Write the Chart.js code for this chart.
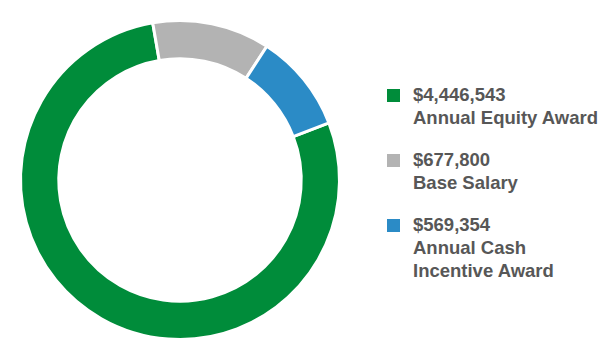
<!DOCTYPE html>
<html>
<head>
<meta charset="utf-8">
<script src="https://cdn.jsdelivr.net/npm/chart.js@4"></script>
<style>
body { margin: 0; background: #fff; font-family: "Liberation Sans", Arial, sans-serif; }
#wrap { position: relative; width: 600px; height: 360px; }
#box { position: absolute; left: 0; top: 0; width: 360px; height: 360px; }
#legend { position: absolute; left: 387px; top: 83px; color: #575757; font-weight: bold; font-size: 18.5px; line-height: 23px; }
.item { position: relative; padding-left: 26px; margin-bottom: 19px; }
.sw { position: absolute; left: 0; top: 6px; width: 13px; height: 13px; }
</style>
</head>
<body>
<div id="wrap">
  <div id="box"><canvas id="pie"></canvas></div>
  <div id="legend"></div>
</div>
<script>
// pay mix
var labels = [['$4,446,543', 'Annual Equity Award'], ['$677,800', 'Base Salary'], ['$569,354', 'Annual Cash', 'Incentive Award']];
var amounts = [4446543, 677800, 569354];
var colors = ['#008c3a', '#b3b3b3', '#2b8bc6'];

function drawLegend(){
	var legend = document.getElementById('legend');
	for (var i = 0; i < labels.length; i++) {
		var item = document.createElement('div');
		item.className = 'item';
		item.innerHTML = '<span class="sw" style="background:' + colors[i] + '"></span>' + labels[i].join('<br>');
		legend.appendChild(item);
	}
}

var ctx = document.getElementById('pie');
new Chart(ctx, {
    type: 'doughnut',
    data: {
        labels: labels.map(function(l){ return l.join(' '); }),
        datasets: [{
            data: amounts,
            backgroundColor: colors,
            borderColor: '#ffffff',
            borderWidth: 3
        }]
    },
    options: {
        responsive: true,
        maintainAspectRatio: false,
        animation: false,
        cutout: '76%',
        rotation: 69,
        layout: { padding: 19 },
        plugins: {
            legend: { display: false },
            tooltip: { enabled: false }
        }
    }
});

drawLegend();
</script>
</body>
</html>
